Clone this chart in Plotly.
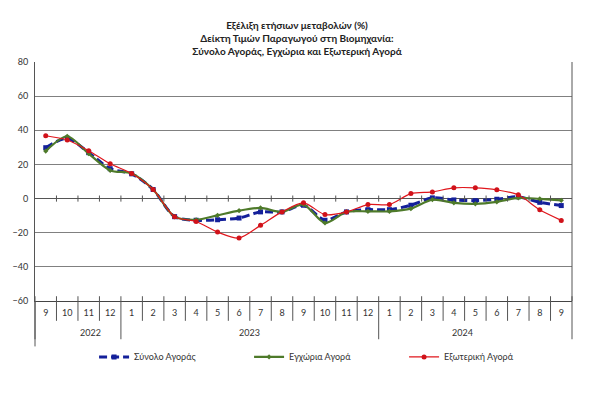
import plotly.graph_objects as go

# ---- data ----
months = ["9", "10", "11", "12", "1", "2", "3", "4", "5", "6", "7", "8", "9", "10", "11", "12",
          "1", "2", "3", "4", "5", "6", "7", "8", "9"]
years = ["2022"] * 4 + ["2023"] * 12 + ["2024"] * 9
year_labels = ["2022", "2023", "2024"]

synolo = [29.8, 35.3, 26.9, 17.5, 14.5, 5.3, -10.6, -12.7, -12.4, -11.4, -7.8, -7.8, -3.9,
          -12.7, -7.8, -6.5, -6.5, -3.9, 0.4, -0.8, -1.2, -0.4, 1.0, -2.2, -4.1]
egxoria = [27.8, 36.5, 26.3, 16.5, 14.7, 5.3, -10.6, -12.4, -9.8, -7.1, -5.5, -7.8, -3.5,
           -14.3, -7.8, -7.5, -7.5, -5.9, -0.6, -2.5, -3.1, -1.9, 0.4, -0.2, -1.0]
exoteriki = [36.8, 34.3, 28.0, 20.4, 14.7, 5.3, -10.6, -13.4, -19.6, -23.1, -15.7, -7.8, -2.5,
             -9.4, -7.8, -3.5, -3.5, 2.9, 3.9, 6.3, 6.3, 5.1, 2.2, -6.6, -12.8]

series_names = ["Σύνολο Αγοράς", "Εγχώρια Αγορά", "Εξωτερική Αγορά"]
title_lines = ["Εξέλιξη ετήσιων μεταβολών (%)",
               "Δείκτη Τιμών Παραγωγού στη Βιομηχανία:",
               "Σύνολο Αγοράς, Εγχώρια και Εξωτερική Αγορά"]

x = [f"{m}/{y}" for m, y in zip(months, years)]
N = len(x)

FONT = "Lato, 'Noto Sans', 'Open Sans', sans-serif"
TXT = "#333333"

fig = go.Figure()
fig.add_trace(go.Scatter(
    x=x, y=synolo, name=series_names[0], mode="lines+markers",
    line=dict(color="#14209A", width=3, dash="8px,4px", shape="spline", smoothing=0.8),
    marker=dict(symbol="square", size=5, color="#14209A")))
fig.add_trace(go.Scatter(
    x=x, y=egxoria, name=series_names[1], mode="lines+markers",
    line=dict(color="#4E7A2A", width=2.2, shape="spline", smoothing=0.8),
    marker=dict(symbol="diamond", size=4, color="#4E7A2A")))
fig.add_trace(go.Scatter(
    x=x, y=exoteriki, name=series_names[2], mode="lines+markers",
    line=dict(color="#E0161C", width=1.2, shape="spline", smoothing=0.8),
    marker=dict(symbol="circle", size=5, color="#D0121A")))

shapes = []
# tick marks crossing the zero line at category boundaries
for i in range(1, N):
    shapes.append(dict(type="line", xref="paper", yref="y", x0=i / N, x1=i / N,
                       y0=-1.8, y1=1.8, line=dict(color="#555555", width=1)))
# separators in the category label area
bounds = [0]
for i in range(1, N):
    if years[i] != years[i - 1]:
        bounds.append(i)
bounds.append(N)
for i in range(N + 1):
    bottom = -0.16 if i in bounds else -0.083
    shapes.append(dict(type="line", xref="paper", yref="paper", x0=i / N, x1=i / N,
                       y0=0.02, y1=bottom, line=dict(color="#555555", width=1)))
# right border
shapes.append(dict(type="line", xref="paper", yref="paper", x0=1, x1=1, y0=0, y1=1,
                   line=dict(color="#555555", width=1)))
# left axis extension
shapes.append(dict(type="line", xref="paper", yref="paper", x0=0, x1=0, y0=0, y1=-0.19,
                   line=dict(color="#555555", width=1)))

annotations = []
for k, yl in enumerate(year_labels):
    c = (bounds[k] + bounds[k + 1]) / 2 / N
    annotations.append(dict(text=yl, xref="paper", yref="paper", x=c, y=-0.13,
                            showarrow=False, yanchor="middle",
                            font=dict(size=9, color=TXT, family=FONT)))

fig.update_layout(
    width=600, height=395,
    margin=dict(l=35, r=28, t=62, b=94),
    paper_bgcolor="white", plot_bgcolor="white",
    font=dict(family=FONT, color=TXT, size=9),
    title=dict(text="<br>".join(f"<b>{t}</b>" for t in title_lines),
               x=0.495, xanchor="center", y=1 - 29 / 395, yanchor="middle",
               yref="container", font=dict(size=10, color="#222222", family=FONT)),
    showlegend=True,
    legend=dict(orientation="h", x=0.11, xanchor="left", y=-0.234, yanchor="middle",
                font=dict(size=9, color=TXT, family=FONT), entrywidth=110,
                itemwidth=30, bgcolor="rgba(0,0,0,0)"),
    shapes=shapes, annotations=annotations,
)
fig.update_xaxes(type="category", tickvals=x, ticktext=months, ticks="",
                 showgrid=False, showline=True, linecolor="#444444", linewidth=1,
                 tickfont=dict(size=9, color=TXT), ticklabelstandoff=3,
                 range=[-0.5, N - 0.5], zeroline=False)
fig.update_yaxes(range=[-60, 80], dtick=20, showgrid=True, gridcolor="#808080", gridwidth=1,
                 zeroline=True, zerolinecolor="#555555", zerolinewidth=1,
                 showline=True, linecolor="#555555", linewidth=1,
                 tickfont=dict(size=9, color=TXT), ticks="", ticklabelstandoff=4)

fig.write_html("out.html", config={"displayModeBar": False},
               post_script="document.body.style.margin='0px';")
